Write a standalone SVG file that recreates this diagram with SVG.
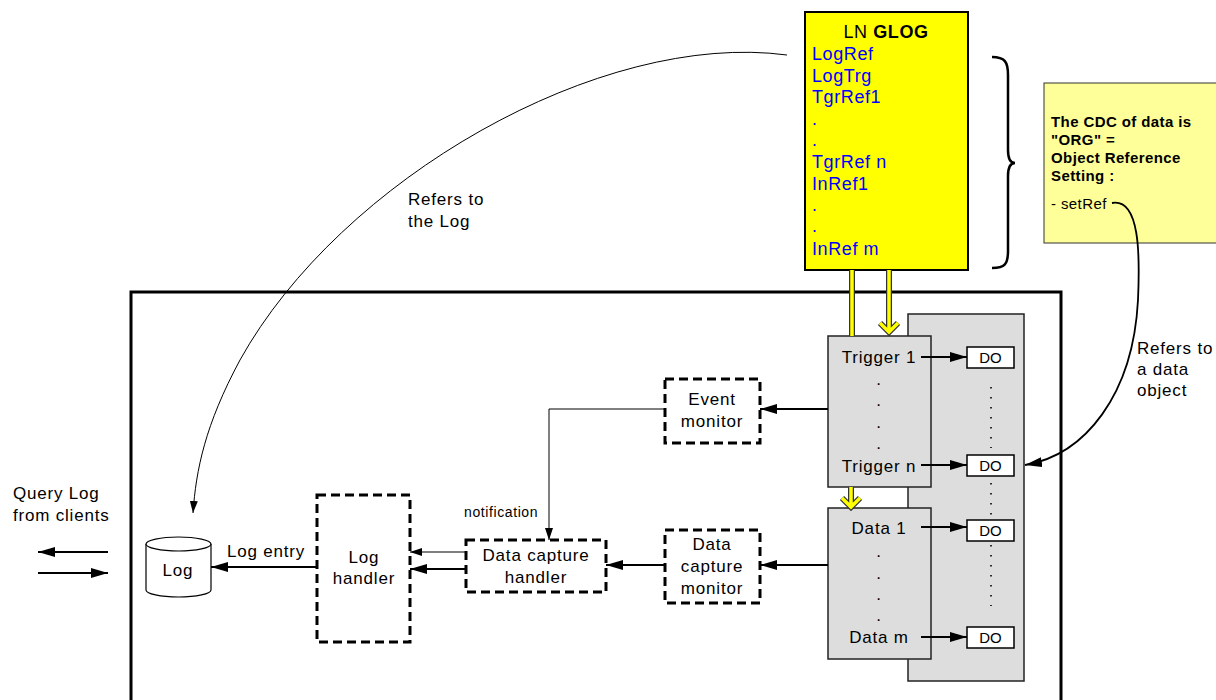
<svg xmlns="http://www.w3.org/2000/svg" width="1216" height="700" viewBox="0 0 1216 700">
<style>
text{font-family:"Liberation Sans",Arial,sans-serif;fill:#000}
.t{font-size:17px;letter-spacing:0.8px}
.tm{font-size:17px;letter-spacing:0.8px;text-anchor:middle}
.blue{font-size:18px;letter-spacing:0.6px;fill:#0000ff}
.note{font-size:15px;font-weight:bold;letter-spacing:0.4px}
.dash{fill:#fff;stroke:#000;stroke-width:3;stroke-dasharray:9 5}
.gray{fill:#dddddd;stroke:#222;stroke-width:1.5}
.do{fill:#fff;stroke:#000;stroke-width:1.5}
.c2{fill:none;stroke:#000;stroke-width:2}
.c1{fill:none;stroke:#000;stroke-width:1}
.ybar{fill:none;stroke:#333;stroke-width:6}
.yfill{fill:none;stroke:#ffff00;stroke-width:3.5}
</style>
<defs>
<marker id="ah" markerUnits="userSpaceOnUse" markerWidth="17" markerHeight="11" refX="17" refY="5" orient="auto"><path d="M0,0 L17,5 L0,10 z" fill="#000"/></marker>
<marker id="ahs" markerUnits="userSpaceOnUse" markerWidth="12" markerHeight="9" refX="12" refY="4" orient="auto"><path d="M0,0 L12,4 L0,8 z" fill="#000"/></marker>
</defs>
<rect width="1216" height="700" fill="#fff"/>

<g id="outer-box"><path d="M131,705 V292 H1061 V705" fill="none" stroke="#000" stroke-width="3"/></g>

<g id="do-panel"><rect x="908" y="314" width="116" height="367" class="gray"/>
<path d="M991,387 V448 M991,483 V515 M991,545 V606" stroke="#000" stroke-width="1.6" stroke-dasharray="1.6 8.4" fill="none"/></g>

<g id="ln-glog">
<rect x="805" y="12" width="163" height="258" fill="#ffff00" stroke="#000" stroke-width="2"/>
<text x="886" y="38" text-anchor="middle" style="font-size:18px;letter-spacing:0.6px">LN <tspan font-weight="bold">GLOG</tspan></text>
<text x="812" y="60" class="blue">LogRef</text>
<text x="812" y="82" class="blue">LogTrg</text>
<text x="812" y="103" class="blue">TgrRef1</text>
<text x="812" y="125" class="blue">.</text>
<text x="812" y="146" class="blue">.</text>
<text x="812" y="168" class="blue">TgrRef n</text>
<text x="812" y="190" class="blue">InRef1</text>
<text x="812" y="211" class="blue">.</text>
<text x="812" y="232" class="blue">.</text>
<text x="812" y="255" class="blue">InRef m</text>
</g>

<g id="brace"><path d="M992,57 C1005,57 1008,62 1008,75 L1008,150 C1008,159 1010,163 1015,163 C1010,163 1008,167 1008,176 L1008,251 C1008,264 1005,268 992,268" fill="none" stroke="#000" stroke-width="2.5"/></g>

<g id="note">
<rect x="1044" y="83" width="180" height="160" fill="#ffff99" stroke="#333" stroke-width="1"/>
<text x="1051" y="127" class="note">The CDC of data is</text>
<text x="1051" y="145" class="note">"ORG" =</text>
<text x="1051" y="163" class="note">Object Reference</text>
<text x="1051" y="181" class="note">Setting :</text>
<text x="1051" y="209" style="font-size:15px;letter-spacing:0.4px">- setRef</text>
</g>

<g id="trigger-box">
<rect x="828" y="336" width="103" height="151" class="gray"/>
<text x="879" y="363" class="tm">Trigger 1</text>
<text x="879" y="385" class="tm">.</text>
<text x="879" y="406" class="tm">.</text>
<text x="879" y="428" class="tm">.</text>
<text x="879" y="449" class="tm">.</text>
<text x="879" y="472" class="tm">Trigger n</text>
</g>

<g id="data-box">
<rect x="828" y="508" width="103" height="151" class="gray"/>
<text x="879" y="534" class="tm">Data 1</text>
<text x="879" y="557" class="tm">.</text>
<text x="879" y="579" class="tm">.</text>
<text x="879" y="600" class="tm">.</text>
<text x="879" y="621" class="tm">.</text>
<text x="879" y="643" class="tm">Data m</text>
</g>

<g id="do-1"><rect x="967" y="347" width="47" height="21" class="do"/><text x="990.5" y="363" text-anchor="middle" style="font-size:15px">DO</text></g>
<g id="do-2"><rect x="967" y="455" width="47" height="21" class="do"/><text x="990.5" y="471" text-anchor="middle" style="font-size:15px">DO</text></g>
<g id="do-3"><rect x="967" y="520" width="47" height="21" class="do"/><text x="990.5" y="536" text-anchor="middle" style="font-size:15px">DO</text></g>
<g id="do-4"><rect x="967" y="627" width="47" height="21" class="do"/><text x="990.5" y="643" text-anchor="middle" style="font-size:15px">DO</text></g>

<g id="event-monitor"><rect x="665" y="379" width="95" height="64" class="dash"/>
<text x="712" y="405" class="tm">Event</text><text x="712" y="427" class="tm">monitor</text></g>

<g id="data-capture-monitor"><rect x="665" y="530" width="95" height="73" class="dash"/>
<text x="712" y="550" class="tm">Data</text><text x="712" y="572" class="tm">capture</text><text x="712" y="594" class="tm">monitor</text></g>

<g id="data-capture-handler"><rect x="466" y="540" width="140" height="52" class="dash"/>
<text x="536" y="561" class="tm">Data capture</text><text x="536" y="583" class="tm">handler</text></g>

<g id="log-handler"><rect x="317" y="495" width="93" height="147" class="dash"/>
<text x="364" y="563" class="tm">Log</text><text x="364" y="584" class="tm">handler</text></g>

<g id="log-db">
<path d="M146,544 V590 A32.5,7 0 0 0 211,590 V544" fill="#fff" stroke="#000" stroke-width="1.2"/>
<ellipse cx="178.5" cy="544" rx="32.5" ry="7" fill="#fff" stroke="#000" stroke-width="1.2"/>
<text x="178" y="576" class="tm">Log</text>
</g>

<g id="labels">
<text x="13" y="499" class="t">Query Log</text>
<text x="13" y="521" class="t">from clients</text>
<text x="408" y="205" class="t">Refers to</text>
<text x="408" y="227" class="t">the Log</text>
<text x="1137" y="354" class="t">Refers to</text>
<text x="1137" y="375" class="t">a data</text>
<text x="1137" y="396" class="t">object</text>
<text x="464" y="517" style="font-size:14px;letter-spacing:0.6px">notification</text>
<text x="227" y="557" class="t">Log entry</text>
</g>

<g id="connectors">
<path class="ybar" d="M852,270 V336 M889,270 V332 M880,323 L889,332 L898,323 M851,487 V507 M842,498 L851,507 L860,498"/>
<path class="yfill" d="M852,270 V336 M889,270 V332 M880,323 L889,332 L898,323 M851,487 V507 M842,498 L851,507 L860,498"/>

<line x1="921" y1="357" x2="967" y2="357" class="c2" marker-end="url(#ah)"/>
<line x1="921" y1="465" x2="967" y2="465" class="c2" marker-end="url(#ah)"/>
<line x1="921" y1="527" x2="967" y2="527" class="c2" marker-end="url(#ah)"/>
<line x1="921" y1="637" x2="967" y2="637" class="c2" marker-end="url(#ah)"/>

<line x1="828" y1="409" x2="760" y2="409" class="c2" marker-end="url(#ah)"/>
<line x1="828" y1="565" x2="760" y2="565" class="c2" marker-end="url(#ah)"/>
<line x1="665" y1="565" x2="606" y2="565" class="c2" marker-end="url(#ah)"/>
<path d="M665,409 H549 V540" class="c1" marker-end="url(#ahs)"/>
<line x1="466" y1="552" x2="410" y2="552" class="c1" marker-end="url(#ahs)"/>
<line x1="466" y1="569" x2="410" y2="569" class="c2" marker-end="url(#ah)"/>
<line x1="317" y1="567" x2="211" y2="567" class="c2" marker-end="url(#ah)"/>

<line x1="108" y1="552" x2="38" y2="552" class="c2" marker-end="url(#ah)"/>
<line x1="38" y1="573" x2="108" y2="573" class="c2" marker-end="url(#ah)"/>

<path d="M787,55 C600,30 340,180 240,360 C205,425 196,470 193,513" class="c1" marker-end="url(#ahs)"/>
<path d="M1112,203 C1140,198 1140,255 1138,300 C1133,395 1085,455 1025,465" fill="none" stroke="#000" stroke-width="1.8" marker-end="url(#ah)"/>
</g>
</svg>
